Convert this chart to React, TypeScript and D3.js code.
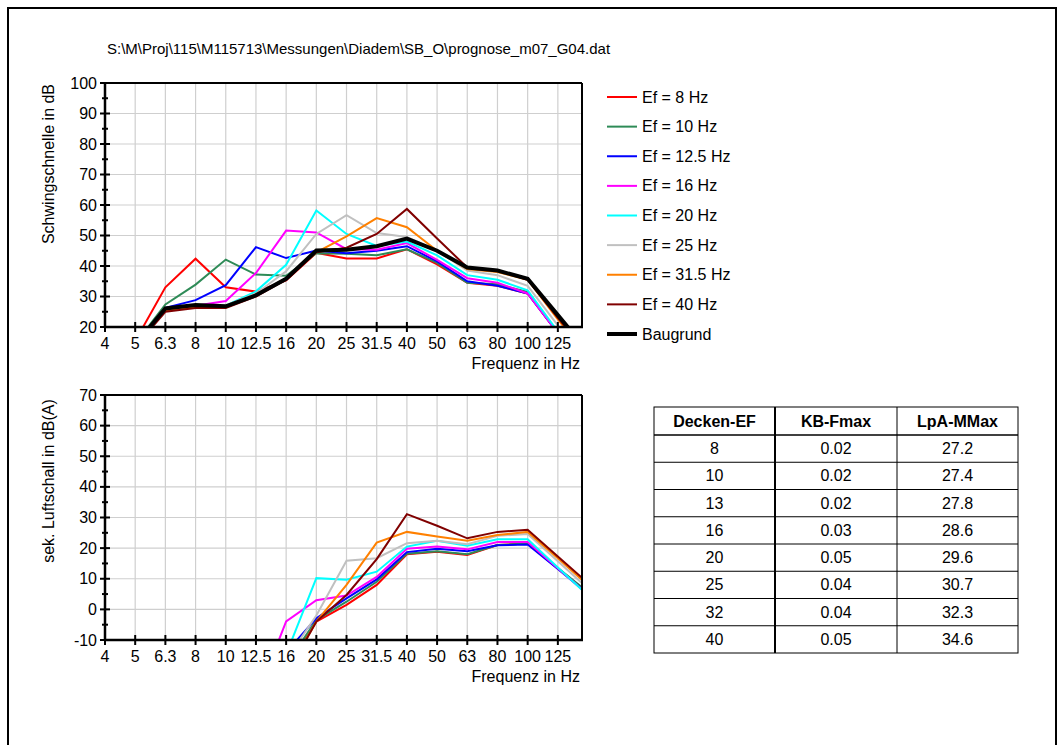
import React from "react";
import * as d3 from "d3";

const bands = ["4", "5", "6.3", "8", "10", "12.5", "16", "20", "25", "31.5", "40", "50", "63", "80", "100", "125"];
const title = "S:\\M\\Proj\\115\\M115713\\Messungen\\Diadem\\SB_O\\prognose_m07_G04.dat";

const seriesNames = ["Ef = 8 Hz", "Ef = 10 Hz", "Ef = 12.5 Hz", "Ef = 16 Hz", "Ef = 20 Hz", "Ef = 25 Hz", "Ef = 31.5 Hz", "Ef = 40 Hz", "Baugrund"];
const seriesColors = ["#ff0000", "#2e8b57", "#0000ff", "#ff00ff", "#00ffff", "#c0c0c0", "#ff8000", "#800000", "#000000"];

// band index 0..16 (4 Hz .. 160 Hz); null = no value
const topEf8 = [null, 15.4, 33, 42.4, 33, 31.6, 35.3, 44.3, 42.5, 42.5, 45.5, 40.5, 34.5, 33.5, 31, 18, 6];
const topEf10 = [null, 14.5, 27.4, 33.9, 42.1, 37.2, 36.8, 44.2, 44, 43.5, 45.5, 41, 34.5, 34, 31.5, 18, 6];
const topEf12 = [null, 14, 26.3, 28.8, 33.7, 46.2, 42.6, 45.1, 44.2, 45, 46.5, 41.5, 35, 33.5, 31, 18, 6];
const topEf16 = [null, 14, 26, 27, 28.5, 37.7, 51.6, 51, 45.5, 45.3, 47.5, 42, 36, 34.5, 31, 18, 6];
const topEf20 = [null, 13.5, 25.5, 27, 27, 31.7, 40.4, 58.2, 50.5, 46.6, 48, 43.5, 37, 35.5, 32, 18.5, 6];
const topEf25 = [null, 14, 26, 27, 27, 31, 38.3, 50.5, 56.7, 50.8, 49.5, 45, 38.5, 37, 33.5, 20.5, 8];
const topEf31 = [null, 14, 25.5, 26.5, 26.5, 30.5, 36, 44.5, 49.7, 55.7, 52.7, 45, 39, 38, 35.5, 22.5, 10];
const topEf40 = [null, 13.5, 25, 26.2, 26.2, 30, 35.5, 44.5, 46, 50.5, 58.7, 49, 39.5, 38.5, 35.5, 23, 11];
const topBaugrund = [null, 14.2, 26.1, 27.2, 26.8, 30.4, 35.8, 45.1, 45.3, 46.5, 49, 45, 39.5, 38.5, 35.8, 23.9, 12];

const botEf8 = [null, null, null, null, null, null, -19, -4, 1.5, 8, 18, 18.8, 17.8, 21, 21.5, 13.4, 5.4];
const botEf10 = [null, null, null, null, null, null, -18, -3.5, 2.5, 9, 18.2, 19, 18, 21, 21.5, 13.5, 5.6];
const botEf12 = [null, null, null, null, null, null, -14, -2.9, 3.6, 9.8, 18.7, 19.8, 19, 20.9, 21.2, 13.2, 5];
const botEf16 = [null, null, null, null, null, -29.3, -3.9, 3, 4.5, 10.6, 19.8, 20.5, 19.6, 22, 22, 13.4, 4.8];
const botEf20 = [null, null, null, null, null, null, -14.7, 10.2, 9.7, 12.3, 20.5, 22.4, 20.8, 22.9, 22.9, 13.7, 4.5];
const botEf25 = [null, null, null, null, null, null, -16.5, -2, 15.9, 16.7, 21.6, 22.4, 21.3, 24, 24.6, 15.7, 6.8];
const botEf31 = [null, null, null, null, null, null, -21, -4, 8, 21.8, 25.3, 23.8, 22.4, 24.3, 25.3, 16.7, 7.9];
const botEf40 = [null, null, null, null, null, null, -21.6, -4, 4.7, 16.4, 31.1, 27.3, 23.2, 25.3, 26, 17.3, 8.6];

const topSeries = [topEf8, topEf10, topEf12, topEf16, topEf20, topEf25, topEf31, topEf40, topBaugrund];
const botSeries = [botEf8, botEf10, botEf12, botEf16, botEf20, botEf25, botEf31, botEf40];

const topTicks = [20, 30, 40, 50, 60, 70, 80, 90, 100];
const botTicks = [-10, 0, 10, 20, 30, 40, 50, 60, 70];

const tableHeader = ["Decken-EF", "KB-Fmax", "LpA-MMax"];
const tableEF = ["8", "10", "13", "16", "20", "25", "32", "40"];
const tableKB = ["0.02", "0.02", "0.02", "0.03", "0.05", "0.04", "0.04", "0.05"];
const tableLpA = ["27.2", "27.4", "27.8", "28.6", "29.6", "30.7", "32.3", "34.6"];

const FONT = "'Liberation Sans', Arial, sans-serif";
const FS = 16;

type PanelProps = {
  id: string;
  top: number;
  bottom: number;
  yMin: number;
  yMax: number;
  ticks: number[];
  series: (number | null)[][];
  ylabel: string;
  ylabelCenter: number;
};

function Panel({ id, top, bottom, yMin, yMax, ticks, series, ylabel, ylabelCenter }: PanelProps) {
  const left = 105;
  const right = 582;
  const x = d3.scaleLinear().domain([0, 15.8]).range([left, right]);
  const y = d3.scaleLinear().domain([yMin, yMax]).range([bottom, top]);
  const line = d3
    .line<number | null>()
    .defined((d) => d !== null)
    .x((_, i) => x(i))
    .y((d) => y(d as number));
  const minor = d3.range(yMin + 5, yMax, 10);
  return (
    <g>
      <defs>
        <clipPath id={id}>
          <rect x={left} y={top} width={right - left} height={bottom - top} />
        </clipPath>
      </defs>
      {bands.map((b, i) =>
        i > 0 ? <line key={"gx" + i} x1={x(i)} x2={x(i)} y1={top} y2={bottom} stroke="#cfcfcf" strokeWidth={1.2} /> : null
      )}
      {ticks.map((t) =>
        t !== yMin && t !== yMax ? <line key={"gy" + t} x1={left} x2={right} y1={y(t)} y2={y(t)} stroke="#cfcfcf" strokeWidth={1.2} /> : null
      )}
      <g clipPath={`url(#${id})`}>
        {series.map((s, k) => (
          <path
            key={"s" + k}
            d={line(s) || ""}
            fill="none"
            stroke={seriesColors[k]}
            strokeWidth={k === 8 ? 4 : 2}
            strokeLinejoin="miter"
          />
        ))}
      </g>
      <line x1={left} x2={right} y1={top} y2={top} stroke="#000" strokeWidth={2} />
      <line x1={right} x2={right} y1={top} y2={bottom} stroke="#000" strokeWidth={2} />
      <line x1={left} x2={left} y1={top - 1} y2={bottom + 1} stroke="#000" strokeWidth={2.5} />
      <line x1={left - 1} x2={right + 1} y1={bottom} y2={bottom} stroke="#000" strokeWidth={2.5} />
      {ticks.map((t) => (
        <g key={"ty" + t}>
          <line x1={left - 5} x2={left + 5} y1={y(t)} y2={y(t)} stroke="#000" strokeWidth={2} />
          <text x={left - 8} y={y(t)} dy="0.35em" textAnchor="end" fontSize={FS} fontFamily={FONT} fill="#000">
            {t}
          </text>
        </g>
      ))}
      {minor.map((t) => (
        <line key={"my" + t} x1={left - 3} x2={left + 3} y1={y(t)} y2={y(t)} stroke="#000" strokeWidth={2} />
      ))}
      {bands.map((b, i) => (
        <g key={"tx" + i}>
          <line x1={x(i)} x2={x(i)} y1={bottom - 5} y2={bottom + 5} stroke="#000" strokeWidth={2} />
          <text x={x(i)} y={bottom + 22} textAnchor="middle" fontSize={FS} fontFamily={FONT} fill="#000">
            {b}
          </text>
        </g>
      ))}
      <text x={right - 2} y={bottom + 42} textAnchor="end" fontSize={FS} fontFamily={FONT} fill="#000">
        Frequenz in Hz
      </text>
      <text
        transform={`translate(54,${ylabelCenter}) rotate(-90)`}
        textAnchor="middle"
        fontSize={FS}
        fontFamily={FONT}
        fill="#000"
      >
        {ylabel}
      </text>
    </g>
  );
}

export default function App() {
  const legendY = d3.scaleLinear().domain([0, 8]).range([97, 334]);
  const colX = [654, 775, 897, 1018];
  const rowY = d3.scaleLinear().domain([0, 8]).range([435, 653]);
  return (
    <svg width={1064} height={745} style={{ position: "absolute", left: 0, top: 0 }}>
      <rect x={0} y={0} width={1064} height={745} fill="#fff" />
      <path d="M8,760 L8,8 L1056,8 L1056,760" fill="none" stroke="#000" strokeWidth={2} />
      <text x={107} y={54} fontSize={15} fontFamily={FONT} fill="#000">
        {title}
      </text>
      <Panel id="clipTop" top={83} bottom={327} yMin={20} yMax={100} ticks={topTicks} series={topSeries} ylabel="Schwingschnelle in dB" ylabelCenter={164} />
      <Panel id="clipBot" top={395} bottom={640} yMin={-10} yMax={70} ticks={botTicks} series={botSeries} ylabel="sek. Luftschall in dB(A)" ylabelCenter={481} />
      {seriesNames.map((n, k) => (
        <g key={"lg" + k}>
          <line x1={607} x2={637} y1={legendY(k)} y2={legendY(k)} stroke={seriesColors[k]} strokeWidth={k === 8 ? 4 : 2} />
          <text x={642} y={legendY(k)} dy="0.35em" fontSize={FS} fontFamily={FONT} fill="#000">
            {n}
          </text>
        </g>
      ))}
      <g>
        <rect x={colX[0]} y={407} width={colX[3] - colX[0]} height={653 - 407} fill="none" stroke="#000" strokeWidth={1} />
        <line x1={colX[1]} x2={colX[1]} y1={407} y2={653} stroke="#000" strokeWidth={2} />
        <line x1={colX[2]} x2={colX[2]} y1={407} y2={653} stroke="#000" strokeWidth={1} />
        {d3.range(0, 8).map((r) => (
          <line key={"rl" + r} x1={colX[0]} x2={colX[3]} y1={rowY(r)} y2={rowY(r)} stroke="#000" strokeWidth={r === 0 ? 1.5 : 1} />
        ))}
        {tableHeader.map((h, c) => (
          <text key={"th" + c} x={(colX[c] + colX[c + 1]) / 2} y={421} dy="0.35em" textAnchor="middle" fontSize={FS} fontWeight="bold" fontFamily={FONT} fill="#000">
            {h}
          </text>
        ))}
        {tableEF.map((v, r) => (
          <g key={"tr" + r}>
            <text x={(colX[0] + colX[1]) / 2} y={(rowY(r) + rowY(r + 1)) / 2} dy="0.35em" textAnchor="middle" fontSize={FS} fontFamily={FONT} fill="#000">
              {v}
            </text>
            <text x={(colX[1] + colX[2]) / 2} y={(rowY(r) + rowY(r + 1)) / 2} dy="0.35em" textAnchor="middle" fontSize={FS} fontFamily={FONT} fill="#000">
              {tableKB[r]}
            </text>
            <text x={(colX[2] + colX[3]) / 2} y={(rowY(r) + rowY(r + 1)) / 2} dy="0.35em" textAnchor="middle" fontSize={FS} fontFamily={FONT} fill="#000">
              {tableLpA[r]}
            </text>
          </g>
        ))}
      </g>
    </svg>
  );
}
